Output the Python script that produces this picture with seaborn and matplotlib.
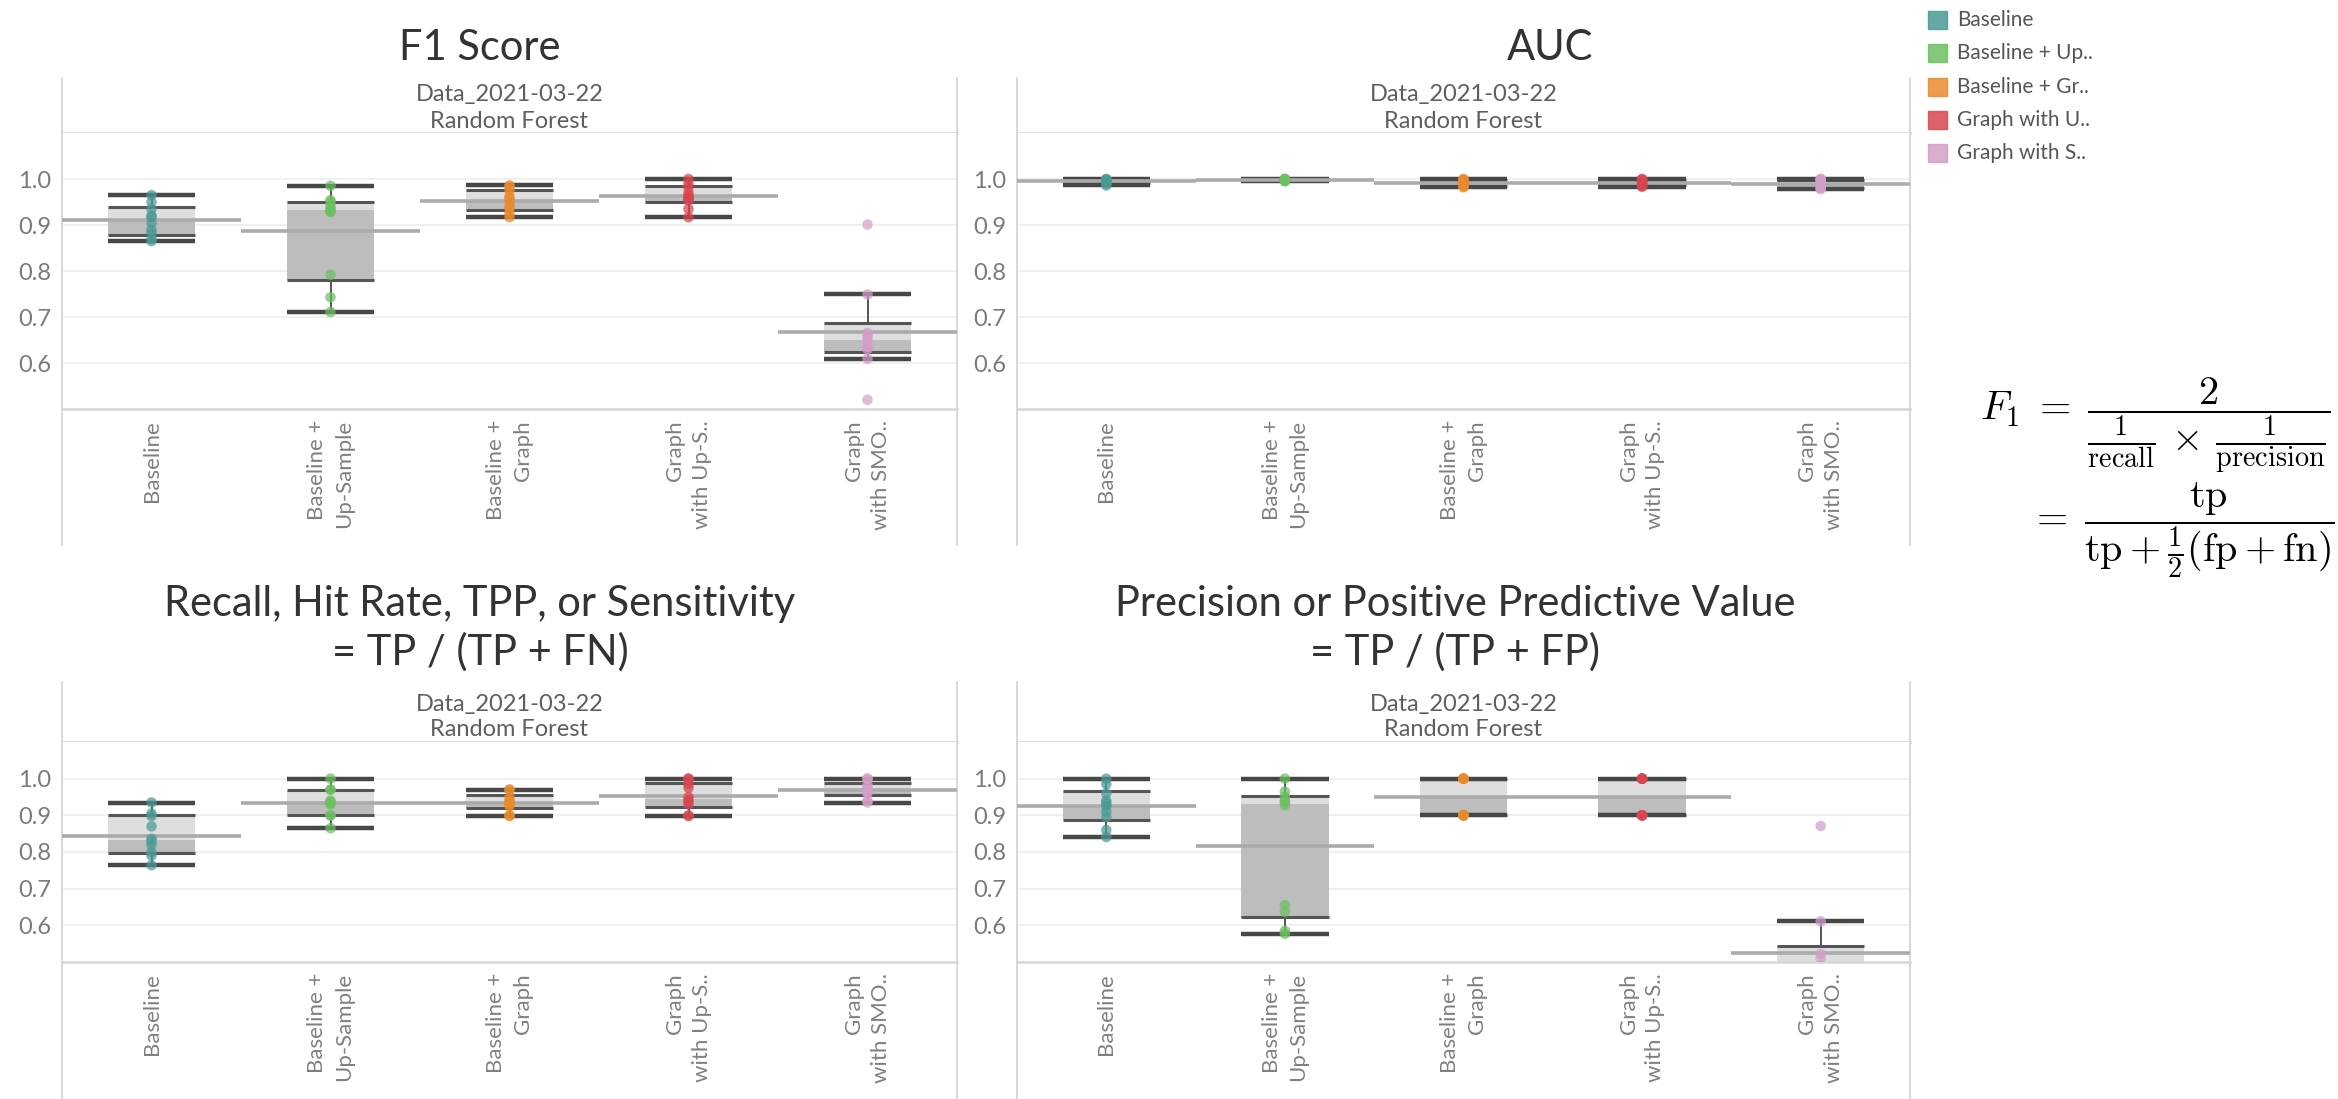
import numpy as np
import pandas as pd
import matplotlib
matplotlib.use("Agg")
import matplotlib.pyplot as plt
from matplotlib.patches import Rectangle
import seaborn as sns

# Metodi e colori (stile Tableau)
methods = ['Baseline', 'Baseline + Up-Sample', 'Baseline + Graph', 'Graph with Up-Sample', 'Graph with SMOTE']
tick_labels = ['Baseline', 'Baseline +\nUp-Sample', 'Baseline +\nGraph', 'Graph\nwith Up-S..', 'Graph\nwith SMO..']
legend_labels = ['Baseline', 'Baseline + Up..', 'Baseline + Gr..', 'Graph with U..', 'Graph with S..']
colors = ['#4a9a94', '#6cbf62', '#ea8a2c', '#d8464f', '#d39fc6']

# Valori (10 fold per metodo)
f1_scores = [
    [0.865, 0.870, 0.882, 0.890, 0.905, 0.918, 0.920, 0.935, 0.950, 0.965],
    [0.711, 0.743, 0.792, 0.928, 0.930, 0.934, 0.940, 0.950, 0.954, 0.985],
    [0.917, 0.925, 0.936, 0.940, 0.950, 0.958, 0.962, 0.975, 0.983, 0.986],
    [0.917, 0.935, 0.954, 0.957, 0.959, 0.963, 0.970, 0.982, 0.990, 1.000],
    [0.520, 0.609, 0.630, 0.635, 0.645, 0.653, 0.660, 0.665, 0.749, 0.901],
]
auc_scores = [
    [0.986, 0.990, 0.992, 0.994, 0.995, 0.996, 0.997, 0.998, 0.999, 1.000],
    [0.995, 0.996, 0.997, 0.998, 0.998, 0.999, 0.999, 1.000, 1.000, 1.000],
    [0.982, 0.984, 0.986, 0.988, 0.990, 0.992, 0.994, 0.997, 0.999, 1.000],
    [0.983, 0.985, 0.987, 0.989, 0.991, 0.993, 0.995, 0.997, 0.999, 1.000],
    [0.978, 0.980, 0.981, 0.985, 0.990, 0.993, 0.996, 0.998, 1.000, 1.000],
]
recall_scores = [
    [0.764, 0.790, 0.800, 0.820, 0.830, 0.836, 0.870, 0.898, 0.905, 0.935],
    [0.865, 0.900, 0.900, 0.930, 0.933, 0.937, 0.940, 0.970, 0.970, 1.000],
    [0.898, 0.900, 0.925, 0.930, 0.932, 0.935, 0.940, 0.950, 0.970, 0.970],
    [0.898, 0.900, 0.930, 0.938, 0.940, 0.950, 0.975, 0.985, 1.000, 1.000],
    [0.935, 0.940, 0.960, 0.965, 0.967, 0.970, 0.975, 0.983, 1.000, 1.000],
]
precision_scores = [
    [0.841, 0.860, 0.895, 0.910, 0.925, 0.933, 0.940, 0.960, 0.985, 1.000],
    [0.577, 0.585, 0.637, 0.655, 0.928, 0.936, 0.940, 0.950, 0.965, 1.000],
    [0.900, 0.900, 0.900, 0.900, 0.900, 1.000, 1.000, 1.000, 1.000, 1.000],
    [0.900, 0.900, 0.900, 0.900, 0.900, 1.000, 1.000, 1.000, 1.000, 1.000],
    [0.420, 0.440, 0.450, 0.460, 0.470, 0.490, 0.510, 0.522, 0.611, 0.871],
]

sns.set_theme(style='white')
plt.rcParams['font.family'] = ['Lato', 'DejaVu Sans']
plt.rcParams['mathtext.fontset'] = 'cm'

W, H = 2338, 1099
fig = plt.figure(figsize=(W / 100, H / 100), dpi=100)

BORDER = '#d6d6d6'
LIGHT = '#dedede'
DARK = '#bdbdbd'


def px_axes(x0, y0, x1, y1):
    return fig.add_axes([x0 / W, 1 - y1 / H, (x1 - x0) / W, (y1 - y0) / H])


def frame(ax, bottom=True):
    ax.set_xticks([])
    ax.set_yticks([])
    ax.patch.set_alpha(0)
    for s in ['left', 'right']:
        ax.spines[s].set_color(BORDER)
        ax.spines[s].set_linewidth(1.3)
    ax.spines['top'].set_visible(False)
    ax.spines['bottom'].set_visible(bottom)
    ax.spines['bottom'].set_color(BORDER)
    ax.spines['bottom'].set_linewidth(1.8)


def draw_box(ax, i, vals):
    v = np.asarray(vals)
    q1, med, q3 = np.percentile(v, [25, 50, 75], method='weibull')
    iqr = q3 - q1
    lo = v[v >= q1 - 1.5 * iqr].min()
    hi = v[v <= q3 + 1.5 * iqr].max()
    w = 0.49
    xs = [i - w / 2, i + w / 2]
    ax.fill_between(xs, q1, med, color=DARK, lw=0, zorder=1)
    ax.fill_between(xs, med, q3, color=LIGHT, lw=0, zorder=1)
    ax.vlines(i, lo, q1, color='#555555', lw=1.4, zorder=2)
    ax.vlines(i, q3, hi, color='#555555', lw=1.4, zorder=2)
    ax.hlines([q1, q3], xs[0], xs[1], color='#555555', lw=2.2, zorder=3)
    ax.hlines([lo, hi], xs[0], xs[1], color='#474747', lw=3.2, zorder=3)
    ax.hlines(v.mean(), i - 0.5, i + 0.5, color='#ababab', lw=2.6, zorder=4)


def panel(scores, x0, x1, top, head_bot, plot_bot, band_bot, title_lines, title_x, title_y):
    # intestazione
    hax = px_axes(x0, top, x1, head_bot)
    frame(hax, bottom=True)
    cx = (x0 + x1) / 2 / W
    fig.text(cx, 1 - (head_bot - 38) / H, 'Data_2021-03-22', ha='center', va='center',
             fontsize=17, color='#5e5e5e')
    fig.text(cx, 1 - (head_bot - 12) / H, 'Random Forest', ha='center', va='center',
             fontsize=17, color='#5e5e5e')
    # banda etichette
    bax = px_axes(x0, plot_bot, x1, band_bot)
    frame(bax, bottom=False)

    ax = px_axes(x0, head_bot, x1, plot_bot)
    df = pd.DataFrame({'method': np.repeat(methods, [len(s) for s in scores]),
                       'value': np.concatenate(scores)})
    for i, vals in enumerate(scores):
        draw_box(ax, i, vals)
    sns.stripplot(data=df, x='method', y='value', hue='method', order=methods,
                  hue_order=methods, palette=colors, jitter=False, size=7.6,
                  alpha=0.72, linewidth=0, legend=False, ax=ax, zorder=5)
    ax.set_xlim(-0.5, 4.5)
    ax.set_ylim(0.5, 1.1)
    ax.set_yticks([0.6, 0.7, 0.8, 0.9, 1.0])
    ax.set_yticklabels(['0.6', '0.7', '0.8', '0.9', '1.0'])
    ax.grid(axis='y', color='#eeeeee', lw=1.2)
    ax.set_axisbelow(True)
    ax.set_xlabel('')
    ax.set_ylabel('')
    ax.set_xticks(range(5))
    ax.set_xticklabels(tick_labels, rotation=90, ha='center', va='top',
                       multialignment='right', linespacing=1.4)
    ax.tick_params(axis='x', length=0, pad=8, labelsize=16, labelcolor='#808080')
    ax.tick_params(axis='y', length=0, pad=8, labelsize=17, labelcolor='#7a7a7a')
    ax.spines['top'].set_visible(False)
    for s in ['left', 'right']:
        ax.spines[s].set_color(BORDER)
        ax.spines[s].set_linewidth(1.3)
    ax.spines['bottom'].set_color(BORDER)
    ax.spines['bottom'].set_linewidth(1.8)

    for k, line in enumerate(title_lines):
        fig.text(title_x / W, 1 - (title_y + 48 * k) / H, line, ha='center', va='center',
                 fontsize=30, color='#333333')


panel(f1_scores, 62, 957, 78, 133, 409, 545, ['F1 Score'], 480, 48)
panel(auc_scores, 1017, 1910, 78, 133, 409, 545, ['AUC'], 1550, 48)
panel(recall_scores, 62, 957, 682, 742, 962, 1100,
      ['Recall, Hit Rate, TPP, or Sensitivity', '= TP / (TP + FN)'], 480, 604)
panel(precision_scores, 1017, 1910, 682, 742, 962, 1100,
      ['Precision or Positive Predictive Value', '= TP / (TP + FP)'], 1455, 604)

# Legenda
for k, (lab, col) in enumerate(zip(legend_labels, colors)):
    yc = 20 + 33.3 * k
    fig.patches.append(Rectangle((1928 / W, 1 - (yc + 9) / H), 19 / W, 18 / H,
                                 transform=fig.transFigure, color=col, alpha=0.85))
    fig.text(1957 / W, 1 - yc / H, lab, ha='left', va='center', fontsize=15, color='#555555')

# Formula F1
fig.text(1980 / W, 1 - 426 / H,
         r'$F_1 \;=\; \dfrac{2}{\frac{1}{\mathrm{recall}} \,\times\, \frac{1}{\mathrm{precision}}}$',
         ha='left', va='center', fontsize=29, color='black')
fig.text(2029 / W, 1 - 530 / H,
         r'$=\; \dfrac{\mathrm{tp}}{\mathrm{tp} + \frac{1}{2}(\mathrm{fp} + \mathrm{fn})}$',
         ha='left', va='center', fontsize=29, color='black')

fig.savefig('out.png', dpi=100)
